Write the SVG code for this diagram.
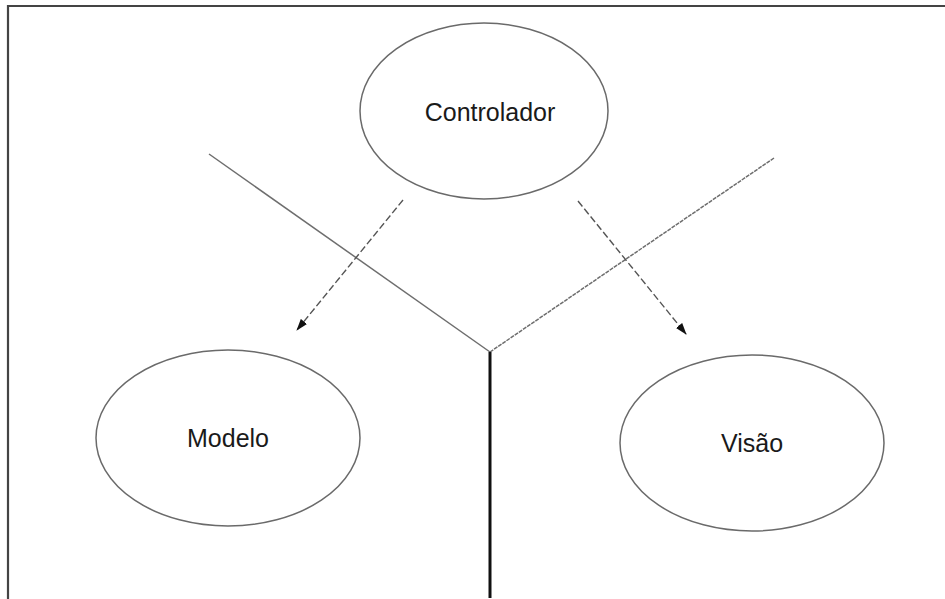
<svg xmlns="http://www.w3.org/2000/svg" width="945" height="599" viewBox="0 0 945 599">
<style>
.node ellipse{fill:none;stroke:#6a6a6a;stroke-width:1.5}
.node text{font-family:"Liberation Sans",Arial,sans-serif;font-size:25px;fill:#1a1a1a;text-anchor:middle}
.frame{stroke:#444;stroke-width:2.2;fill:none}
.sep{stroke:#6e6e6e;stroke-width:1.5;fill:none}
.arrow{stroke:#555;stroke-width:1.4;stroke-dasharray:7 3;fill:none;marker-end:url(#ah)}
</style>
<defs>
<marker id="ah" viewBox="0 0 12 10" refX="11" refY="5" markerWidth="12" markerHeight="10" markerUnits="userSpaceOnUse" orient="auto">
<path d="M0,1 L12,5 L0,9 z" fill="#111"/>
</marker>
</defs>
<rect width="945" height="599" fill="#fff"/>
<path class="frame" d="M8,599 V6 H945"/>
<g id="separator">
<path class="sep" d="M209,154 L490,352"/>
<path class="sep" d="M774,158 L490,352" stroke-dasharray="4 1"/>
<path d="M490,352 V598" stroke="#111" stroke-width="3" fill="none"/>
</g>
<g id="connectors">
<path class="arrow" d="M403,200 L297,330"/>
<path class="arrow" d="M578,201 L686,334"/>
</g>
<g id="controlador" class="node">
<ellipse cx="484" cy="111" rx="124" ry="88"/>
<text x="490" y="121">Controlador</text>
</g>
<g id="modelo" class="node">
<ellipse cx="228" cy="438" rx="132" ry="88"/>
<text x="228" y="447">Modelo</text>
</g>
<g id="visao" class="node">
<ellipse cx="752" cy="443" rx="132" ry="88"/>
<text x="752" y="452">Visão</text>
</g>
</svg>
